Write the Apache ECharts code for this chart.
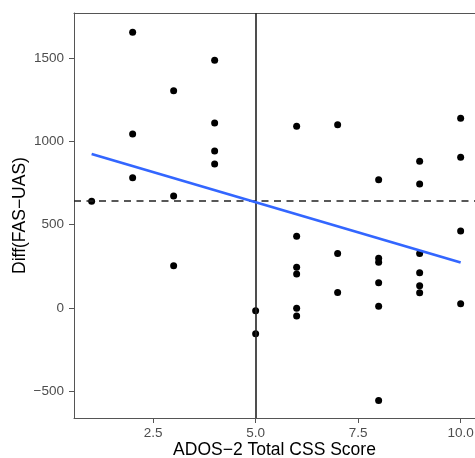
<!DOCTYPE html>
<html>
<head>
<meta charset="utf-8">
<script src="https://cdn.jsdelivr.net/npm/echarts@6/dist/echarts.min.js"></script>
<style>html,body{margin:0;padding:0;background:#fff;}#c{width:475px;height:458px;}</style>
</head>
<body>
<div id="c"></div>
<script>
// Data
const adosScore = [1, 2, 2, 2, 3, 3, 3, 4, 4, 4, 4,
  5, 5,
  6, 6, 6, 6, 6, 6,
  7, 7, 7,
  8, 8, 8, 8, 8, 8,
  9, 9, 9, 9, 9, 9,
  10, 10, 10, 10];
const diffFasUas = [640, 1654, 1044, 782, 1303, 672, 253, 1487, 1110, 942, 864,
  -16, -154,
  1090, 431, 245, 204, -2, -48,
  1100, 327, 93,
  770, 299, 275, 151, 10, -555,
  880, 744, 327, 211, 134, 92,
  1138, 904, 462, 26];
const fitX = [1, 10];
const fitY = [924, 273];
const refX = 5;
const refY = 645;
const xTicks = [2.5, 5.0, 7.5, 10.0];
const yTicks = [-500, 0, 500, 1000, 1500];

const points = adosScore.map((x, i) => [x, diffFasUas[i]]);
const fitLine = fitX.map((x, i) => [x, fitY[i]]);

const chart = echarts.init(document.getElementById('c'), null, {renderer: 'canvas'});
const tickColor = '#4d4d4d';
const font = 'Liberation Sans, Arial, sans-serif';
chart.setOption({
  animation: false,
  backgroundColor: '#fff',
  grid: {left: 74, top: 13, bottom: 40, right: 0, containLabel: false, outerBoundsMode: 'none', show: false},
  xAxis: [{
    type: 'value', min: 0.57, max: 10.35,
    name: 'ADOS\u22122 Total CSS Score', nameLocation: 'middle', nameGap: 23, nameMoveOverlap: false,
    nameTextStyle: {color: '#000', fontSize: 17.5, fontFamily: font},
    axisLine: {show: true, onZero: false, lineStyle: {color: '#555', width: 1}},
    axisTick: {show: true, length: 5, lineStyle: {color: '#555'}, customValues: xTicks},
    axisLabel: {color: tickColor, fontSize: 13.5, margin: 8, fontFamily: font,
      customValues: xTicks, formatter: v => v.toFixed(1)},
    splitLine: {show: false}
  }, {
    type: 'value', position: 'top', min: 0.57, max: 10.35,
    axisLine: {show: true, onZero: false, lineStyle: {color: '#555', width: 1}},
    axisTick: {show: false}, axisLabel: {show: false}, splitLine: {show: false}
  }],
  yAxis: {
    type: 'value', min: -660, max: 1770,
    name: 'Diff(FAS\u2212UAS)', nameLocation: 'middle', nameGap: 45, nameMoveOverlap: false,
    nameTextStyle: {color: '#000', fontSize: 17.5, fontFamily: font},
    axisLine: {show: true, onZero: false, lineStyle: {color: '#555', width: 1}},
    axisTick: {show: true, length: 5, lineStyle: {color: '#555'}, customValues: yTicks},
    axisLabel: {color: tickColor, fontSize: 13.5, margin: 10, fontFamily: font,
      customValues: yTicks, formatter: v => String(v).replace('-', '\u2212')},
    splitLine: {show: false}
  },
  series: [
    {
      type: 'scatter', data: points, symbolSize: 7,
      itemStyle: {color: '#000', opacity: 1},
      markLine: {
        silent: true, symbol: 'none', label: {show: false},
        data: [
          {xAxis: refX, lineStyle: {color: '#222', width: 1.6, type: 'solid'}},
          {yAxis: refY, lineStyle: {color: '#222', width: 1.5, type: [7, 5.5]}}
        ]
      }
    },
    {
      type: 'line', data: fitLine, showSymbol: false, symbol: 'none',
      lineStyle: {color: '#3366FF', width: 2.8}, z: 5
    }
  ]
});
</script>
</body>
</html>
